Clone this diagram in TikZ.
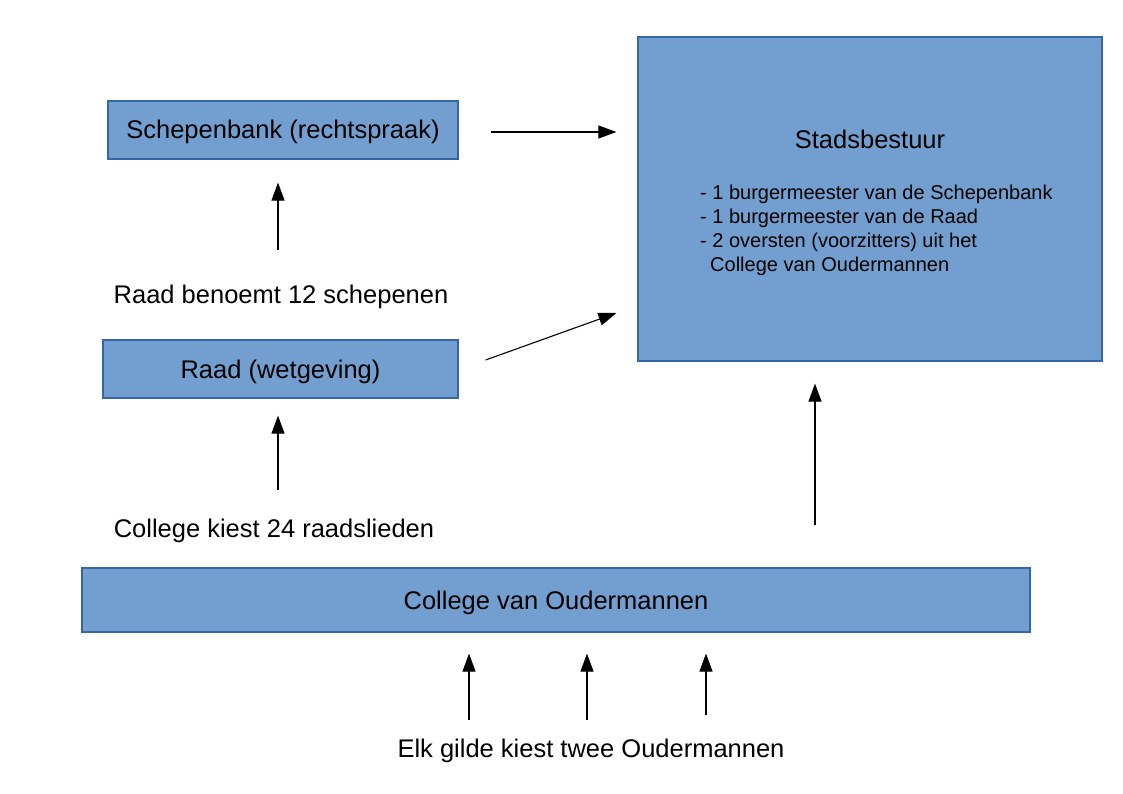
\documentclass[tikz,border=0pt]{standalone}
\usepackage{fontspec}
\setmainfont{Liberation Sans}
\usetikzlibrary{arrows.meta,positioning,calc}
\definecolor{boxfill}{HTML}{729FCF}
\definecolor{boxline}{HTML}{3465A4}

\begin{document}
\begin{tikzpicture}[
    x=1pt, y=1pt,
    box/.style={rectangle, draw=boxline, line width=1.2pt, fill=boxfill, inner sep=0pt, text height=23pt, text depth=5pt, font=\fontsize{25.5}{30}\selectfont},
    txt/.style={inner sep=0pt, font=\fontsize{25.5}{30}\selectfont},
    connection/.style={-{Triangle[length=18pt,width=13pt]}, line width=1.1pt}
]

\useasboundingbox (0,0) rectangle (1123,-794);

% Left column
\node[box, minimum width=350pt, minimum height=58pt] (schepen) at (283,-130) {Schepenbank (rechtspraak)};
\node[txt] (benoemt) at (281,-297) {Raad benoemt 12 schepenen};
\node[box, minimum width=355pt, minimum height=58pt] (raad) at (280.5,-369) {Raad (wetgeving)};
\node[txt] (kiest) at (274,-531) {College kiest 24 raadslieden};

% College (bottom)
\node[box, minimum width=948pt, minimum height=64pt] (college) at (556,-600) {College van Oudermannen};
\node[txt] (gilde) at (591,-751) {Elk gilde kiest twee Oudermannen};

% Stadsbestuur
\node[box, minimum width=464pt, minimum height=324pt] (stad) at (870,-199) {};
\node[txt] (stadtitle) at (870,-139) {Stadsbestuur};
\node[txt, font=\fontsize{20}{24}\selectfont, align=left, anchor=north west] (stadlist) at (700,-185) {- 1 burgermeester van de Schepenbank\\- 1 burgermeester van de Raad\\- 2 oversten (voorzitters) uit het\\\hspace*{10pt}College van Oudermannen};

% Connections to Stadsbestuur
\draw[connection, shorten <=32pt, shorten >=21pt] ([yshift=-2pt]schepen.east) -- ([yshift=-2pt]schepen.east -| stad.west);
\draw[connection] ([xshift=27pt,yshift=9pt]raad.east) -- ([xshift=-21pt,yshift=-114pt]stad.west);
\coordinate (upC) at ([xshift=-55pt]stad.south);
\draw[connection, shorten <=42pt, shorten >=22pt] (upC |- college.north) -- (upC);

% Appointments
\coordinate (upA) at ([xshift=-3pt]benoemt.north);
\draw[connection, shorten <=35pt, shorten >=23pt] (upA) -- (upA |- schepen.south);
\coordinate (upB) at ([xshift=4pt]kiest.north);
\draw[connection, shorten <=29pt, shorten >=17pt] (upB) -- (upB |- raad.south);

% Guild elections
\foreach \dx/\gap [count=\i] in {-122/19, -4/19, 115/24} {
  \coordinate (g\i) at ([xshift=\dx pt]gilde.north);
  \draw[connection, shorten <=\gap pt, shorten >=21pt] (g\i) -- (g\i |- college.south);
}

\end{tikzpicture}
\end{document}
